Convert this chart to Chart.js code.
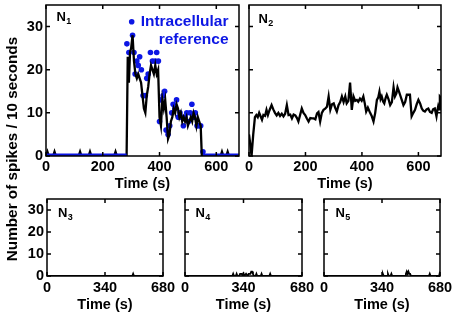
<!DOCTYPE html>
<html><head><meta charset="utf-8">
<script src="https://cdn.jsdelivr.net/npm/chart.js@4.4.1/dist/chart.umd.min.js"></script>
<style>
html,body{margin:0;padding:0;background:#fff;}
#wrap{position:relative;width:459px;height:319px;overflow:hidden;background:#fff;}
canvas{position:absolute;left:0;top:0;width:459px;height:319px;}
</style></head><body>
<div id="wrap">
<canvas id="c1" width="459" height="319"></canvas>
<canvas id="c2" width="459" height="319"></canvas>
<canvas id="c3" width="459" height="319"></canvas>
<canvas id="c4" width="459" height="319"></canvas>
<canvas id="c5" width="459" height="319"></canvas>
</div>
<script>
// ---------- data ----------
const topTicksX = [0, 200, 400, 600];
const bottomTicksX = [0, 340, 680];
const ticksY = [0, 10, 20, 30];

// N1 extracellular rate (black line)
const n1LineT = [0,5,10,15,25,30,35,115,120,125,150,155,160,240,245,250,284,288,292,296,300,305,310,315,320,325,330,335,340,345,350,355,360,365,370,375,380,385,390,395,400,405,410,415,420,425,430,435,440,445,450,455,460,465,470,475,480,485,490,495,500,505,510,515,520,525,530,535,540,545,549,615,620,625,635,640,645,680];
const n1LineV = [0,1,0,0,0,1,0,0,1,0,0,1,0,0,1,0,0,23,17,24,25,28,22,19,18,19,18,17,14,11,10,14,16,19,21,20,19,21,19,20,9,7,13,11,13,9,4,5,8,9,11,10,12,11,9,10,8,9,8,9,7,8,9,8,10,9,7,9,8,7,0,0,1,0,0,1,0,0];

// N1 intracellular reference (blue dots)
const refT = [285,292,305,310,314,320,325,330,336,342,350,355,360,368,375,385,390,396,400,405,413,418,423,430,436,443,448,454,460,466,472,478,484,490,496,502,508,514,520,526,532,538,545,553];
const refV = [26,24,28,24,19,22,21,23,20,14,14,18,19,24,22,22,24,22,8,13,14,15,6,5,7,10,12,11,13,9,10,9,7,9,10,8,10,12,9,10,7,7,7,1];
const refZeroT = [0,284,284.5,553,680];
const refZeroV = [0,0,null,0,0];

// N2
const n2T = [0,4,9,15,21,26,31,36,41,46,51,57,62,67,72,80,86,92,98,104,110,116,122,128,134,140,146,152,158,164,170,175,181,187,193,199,205,211,217,223,229,235,241,246,252,258,264,270,276,282,288,294,300,305,311,317,323,329,335,341,346,352,358,364,370,376,382,387,393,399,405,410,415,421,429,435,441,447,453,458,462,466,470,475,479,484,488,494,500,506,512,517,522,526,531,535,541,547,553,559,564,570,576,582,588,594,600,606,612,617,623,629,635,641,647,652,658,664,667,670,673,676,680];
const n2V = [5,3,0,5,9,9.5,9,10,9.2,8.4,9.5,9.3,10.7,9.5,10.5,11.8,10.8,10,9.4,10,9.3,9.8,9.2,9.8,11.8,9.5,9.6,8.7,9.6,9.4,8.8,8,9.5,11,10,9.5,8.7,8,8.8,8.7,8.7,8.5,9.9,10.2,8,10,10.7,11,11.4,13.8,10.7,12,12.2,11.2,10.3,11.8,12.5,13.8,12.5,13.8,12.2,12.8,17,10.7,13.8,12.8,13,12.6,13.3,12.8,13.8,12.2,10.3,11.2,10,9.2,8,10,13,13.6,14.9,13.2,13.8,12.6,12.2,13.5,14.2,13.2,11.8,12.5,15.9,13.8,14.5,15.9,15,14.2,13,11.8,12.5,14.2,14.2,14.2,9.2,10,10.7,12,13,12.2,11,10.5,10.3,10.8,11,10.2,10,10.8,11,9.2,10.5,11.5,10.8,13.8,13.5];

// N3, N4, N5
const n3T = [0,500,505,510,680];
const n3V = [0,0,1,0,0];
const n4T = [0,275,280,285,295,300,305,315,320,330,335,340,345,355,360,365,370,380,385,390,395,400,410,415,420,440,445,450,490,495,500,680];
const n4V = [0,0,1,0,0,1,0,0,1,1,0,1,0,1,1,0,1,1,2,2,1,0,0,1,0,0,1,0,0,1,0,0];
const n5T = [0,340,345,350,370,375,380,390,395,400,475,480,485,490,495,500,505,510,615,620,625,675,680];
const n5V = [0,0,1,0,0,1,0,0,1,0,0,1,2,1,2,1,1,0,0,1,0,0,2];

// ---------- helpers ----------
const FONT = '"Liberation Sans", Arial, sans-serif';
const BLUE = 'rgb(12,22,228)';
const zip = (t, v) => t.map((x, i) => ({x: x, y: v[i]}));

const framePlugin = {
  id: 'frame',
  afterDatasetsDraw(chart, args, o) {
    const {ctx, chartArea: a, scales: {x, y}} = chart;
    ctx.save();
    ctx.strokeStyle = '#000';
    ctx.lineWidth = 1.5;
    ctx.strokeRect(a.left, a.top, a.right - a.left, a.bottom - a.top);
    const L = 4;
    ctx.beginPath();
    x.ticks.forEach(t => {
      const p = x.getPixelForValue(t.value);
      ctx.moveTo(p, a.bottom); ctx.lineTo(p, a.bottom - L);
      ctx.moveTo(p, a.top); ctx.lineTo(p, a.top + L);
    });
    y.ticks.forEach(t => {
      const p = y.getPixelForValue(t.value);
      ctx.moveTo(a.left, p); ctx.lineTo(a.left + L, p);
      ctx.moveTo(a.right, p); ctx.lineTo(a.right - L, p);
    });
    ctx.stroke();
    // panel label N with subscript
    ctx.fillStyle = '#000';
    ctx.textBaseline = 'alphabetic';
    ctx.textAlign = 'left';
    ctx.font = 'bold 13px ' + FONT;
    const nx = a.left + o.dx, ny = a.top + o.dy;
    ctx.fillText('N', nx, ny);
    const w = ctx.measureText('N').width;
    ctx.font = 'bold 9px ' + FONT;
    ctx.fillText(o.sub, nx + w + 0.3, ny + 3);
    ctx.restore();
  }
};

const extrasPlugin = {
  id: 'extras',
  afterDraw(chart, args, o) {
    if (!o.on) return;
    const ctx = chart.ctx;
    ctx.save();
    // y axis title shared by all panels
    ctx.translate(13, 149);
    ctx.rotate(-Math.PI / 2);
    ctx.fillStyle = '#000';
    ctx.font = 'bold 15.3px ' + FONT;
    ctx.textAlign = 'center';
    ctx.textBaseline = 'middle';
    ctx.fillText('Number of spikes / 10 seconds', 0, 0);
    ctx.restore();
    // legend
    ctx.save();
    ctx.fillStyle = BLUE;
    ctx.beginPath();
    ctx.arc(131.7, 21.7, 2.8, 0, Math.PI * 2);
    ctx.fill();
    ctx.font = 'bold 15.5px ' + FONT;
    ctx.textAlign = 'right';
    ctx.textBaseline = 'alphabetic';
    ctx.fillText('Intracellular', 228.5, 26.3);
    ctx.fillText('reference', 228.5, 43.5);
    ctx.restore();
  }
};

function panel(id, area, cfg) {
  const yW = 40;
  const xH = cfg.xH;
  const tickFont = {family: FONT, size: 14.5, weight: 'bold'};
  return new Chart(document.getElementById(id), {
    type: 'line',
    data: {datasets: cfg.datasets},
    options: {
      responsive: false,
      animation: false,
      events: [],
      layout: {padding: {left: area.l - yW, top: area.t, right: 459 - area.r, bottom: 319 - area.b - xH}},
      plugins: {
        legend: {display: false},
        tooltip: {enabled: false},
        frame: {dx: cfg.dx, dy: cfg.dy, sub: cfg.sub},
        extras: {on: !!cfg.extras}
      },
      scales: {
        x: {
          type: 'linear', min: 0, max: 680, position: 'bottom',
          afterBuildTicks: s => { s.ticks = cfg.xTicks.map(v => ({value: v})); },
          afterFit: s => { s.height = xH; s.paddingLeft = 0; s.paddingRight = 0; s.paddingTop = 0; s.paddingBottom = 0; },
          grid: {display: false, drawTicks: false},
          border: {display: false},
          ticks: {color: '#000', font: tickFont, padding: cfg.xPad, maxRotation: 0, minRotation: 0, autoSkip: false},
          title: {display: true, text: 'Time (s)', color: '#000', font: tickFont, padding: {top: 0, bottom: 0}}
        },
        y: {
          type: 'linear', min: 0, max: 35, position: 'left',
          afterBuildTicks: s => { s.ticks = ticksY.map(v => ({value: v})); },
          afterFit: s => { s.width = yW; s.paddingLeft = 0; s.paddingRight = 0; s.paddingTop = 0; s.paddingBottom = 0; },
          grid: {display: false, drawTicks: false},
          border: {display: false},
          ticks: {display: cfg.yLabels, color: '#000', font: tickFont, padding: 3}
        }
      }
    },
    plugins: [framePlugin, extrasPlugin]
  });
}

const blackLine = (data, w) => ({data: data, borderColor: '#000', borderWidth: w, pointRadius: 0, fill: false, tension: 0, clip: 0});

panel('c1', {l: 46, t: 5, r: 239, b: 156}, {
  xH: 36.7, xPad: 2, xTicks: topTicksX, yLabels: true, dx: 10.5, dy: 16, sub: '1', extras: true,
  datasets: [
    {data: zip(refZeroT, refZeroV), borderColor: BLUE, borderWidth: 5, pointRadius: 0, spanGaps: false, order: 0, clip: 0},
    Object.assign(blackLine(zip(n1LineT, n1LineV), 2.3), {order: 1}),
    {data: zip(refT, refV), showLine: false, pointRadius: 2.8, pointBackgroundColor: BLUE, pointBorderWidth: 0, borderColor: BLUE, order: 2, clip: 0}
  ]
});
panel('c2', {l: 249, t: 5, r: 441, b: 156}, {
  xH: 36.7, xPad: 2, xTicks: topTicksX, yLabels: false, dx: 9.5, dy: 18, sub: '2',
  datasets: [blackLine(zip(n2T, n2V), 2.3)]
});
panel('c3', {l: 47, t: 199, r: 163, b: 276}, {
  xH: 37.7, xPad: 3.5, xTicks: bottomTicksX, yLabels: true, dx: 11, dy: 17.5, sub: '3',
  datasets: [blackLine(zip(n3T, n3V), 1.8)]
});
panel('c4', {l: 185, t: 199, r: 302, b: 276}, {
  xH: 37.7, xPad: 3.5, xTicks: bottomTicksX, yLabels: false, dx: 10.5, dy: 17.5, sub: '4',
  datasets: [blackLine(zip(n4T, n4V), 1.8)]
});
panel('c5', {l: 324, t: 199, r: 440, b: 276}, {
  xH: 37.7, xPad: 3.5, xTicks: bottomTicksX, yLabels: false, dx: 11.5, dy: 17.5, sub: '5',
  datasets: [blackLine(zip(n5T, n5V), 1.8)]
});
</script>
</body></html>
